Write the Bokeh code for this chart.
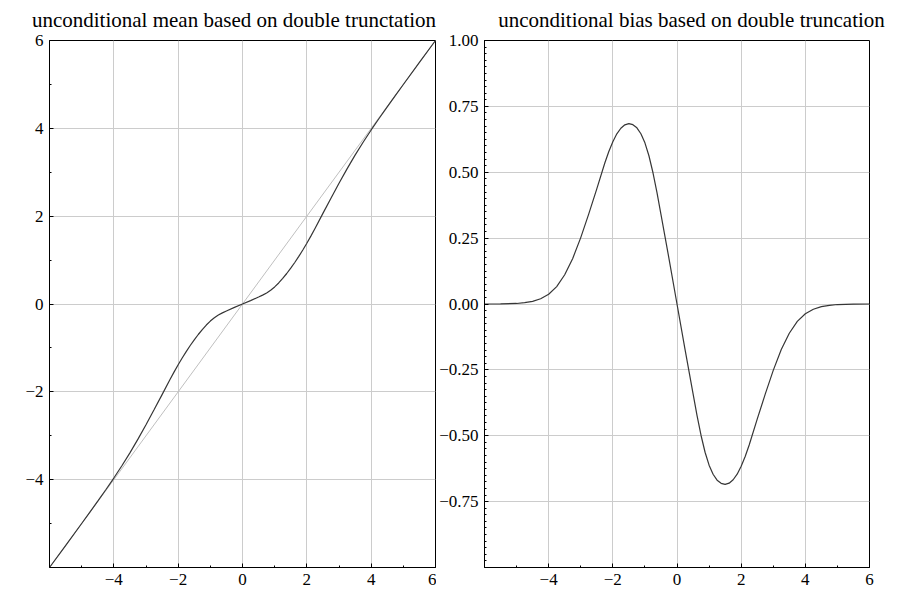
from bokeh.plotting import figure
from bokeh.models import Range1d, FixedTicker, CustomJSTickFormatter, Label
from bokeh.layouts import column, row
from bokeh.embed import file_html
from bokeh.resources import INLINE

# ---- data ----
x_vals = [-6.0, -5.5, -5.0, -4.75, -4.5, -4.25, -4.0, -3.75, -3.5, -3.25, -3.0, -2.75, -2.5,
          -2.25, -2.125, -2.0, -1.875, -1.75, -1.625, -1.5, -1.375, -1.25, -1.125, -1.0,
          -0.875, -0.75, -0.625, -0.5, -0.25, 0.0,
          0.25, 0.5, 0.625, 0.75, 0.875, 1.0, 1.125, 1.25, 1.375, 1.5, 1.625, 1.75, 1.875,
          2.0, 2.125, 2.25, 2.5, 2.75, 3.0, 3.25, 3.5, 3.75, 4.0, 4.25, 4.5, 4.75, 5.0,
          5.5, 6.0]

bias_vals = [0.0, 0.0004, 0.002, 0.005, 0.01, 0.02, 0.037, 0.066, 0.111, 0.173, 0.252, 0.342,
             0.437, 0.535, 0.579, 0.616, 0.646, 0.667, 0.68, 0.6845, 0.6805, 0.6686, 0.6461,
             0.6116, 0.5626, 0.499, 0.4235, 0.34, 0.1725, 0.0,
             -0.1725, -0.34, -0.4235, -0.499, -0.5626, -0.6116, -0.6461, -0.6686, -0.6805,
             -0.6845, -0.68, -0.667, -0.646, -0.616, -0.579, -0.535, -0.437, -0.342, -0.252,
             -0.173, -0.111, -0.066, -0.037, -0.02, -0.01, -0.005, -0.002, -0.0004, 0.0]

mean_vals = [-6.0, -5.4996, -4.998, -4.745, -4.49, -4.23, -3.963, -3.684, -3.389, -3.077,
             -2.748, -2.408, -2.063, -1.715, -1.546, -1.384, -1.229, -1.083, -0.945, -0.8155,
             -0.6945, -0.5814, -0.4789, -0.3884, -0.3124, -0.251, -0.2015, -0.16, -0.0775, 0.0,
             0.0775, 0.16, 0.2015, 0.251, 0.3124, 0.3884, 0.4789, 0.5814, 0.6945, 0.8155,
             0.945, 1.083, 1.229, 1.384, 1.546, 1.715, 2.063, 2.408, 2.748, 3.077, 3.389,
             3.684, 3.963, 4.23, 4.49, 4.745, 4.998, 5.4996, 6.0]

diag_x = [-6.0, 6.0]
diag_y = [-6.0, 6.0]

left_title = "unconditional mean based on double trunctation"
right_title = "unconditional bias based on double truncation"

x_major = [-4, -2, 0, 2, 4, 6]
x_minor = [-5, -3, -1, 1, 3, 5]
left_y_major = [-4, -2, 0, 2, 4, 6]
left_y_minor = [-5, -3, -1, 1, 3, 5]
right_y_major = [-0.75, -0.5, -0.25, 0.0, 0.25, 0.5, 0.75, 1.0]
right_y_minor = [round(-1 + 0.025 * i, 3) for i in range(81)]

FONT = "Liberation Serif"
CURVE = "#363636"
GRID = "#cccccc"

STRIP_H = 31
TOP_B = 40 - STRIP_H

int_fmt = CustomJSTickFormatter(code="return (tick < 0 ? '\\u2212' : '') + Math.abs(tick).toFixed(0);")
dec_fmt = CustomJSTickFormatter(code="return (tick < 0 ? '\\u2212' : '') + Math.abs(tick).toFixed(2);")


def style(p, yfmt):
    p.outline_line_color = "black"
    p.outline_line_width = 1
    p.outline_line_alpha = 1
    for ax in (p.xaxis[0], p.yaxis[0]):
        ax.axis_line_color = "black"
        ax.major_tick_in = 4
        ax.major_tick_out = 0
        ax.minor_tick_in = 2
        ax.minor_tick_out = 0
        ax.major_tick_line_color = "black"
        ax.minor_tick_line_color = "black"
        ax.major_label_text_font = FONT
        ax.major_label_text_font_size = "17px"
        ax.major_label_text_color = "black"
    p.xaxis[0].formatter = int_fmt
    p.yaxis[0].formatter = yfmt
    p.xaxis[0].major_label_standoff = 6
    p.yaxis[0].major_label_standoff = 6
    p.xgrid.grid_line_color = GRID
    p.ygrid.grid_line_color = GRID
    p.background_fill_color = "white"
    p.border_fill_color = "white"


# ---- title strip ----
tf = figure(width=909, height=STRIP_H, x_range=Range1d(0, 909), y_range=Range1d(0, STRIP_H),
            output_backend="svg", toolbar_location=None, min_border=0, title=None,
            x_axis_location=None, y_axis_location=None)
tf.grid.visible = False
tf.outline_line_color = None
tf.add_layout(Label(x=233.5, y=STRIP_H - 19.4, text=left_title, text_font=FONT,
                    text_font_size="21px", text_align="center", text_baseline="middle",
                    text_color="black"))
tf.add_layout(Label(x=691, y=STRIP_H - 19.4, text=right_title, text_font=FONT,
                    text_font_size="21px", text_align="center", text_baseline="middle",
                    text_color="black"))

# ---- left panel ----
p1 = figure(width=436, height=590 - STRIP_H, x_range=Range1d(-6, 6), y_range=Range1d(-6, 6),
            output_backend="svg", toolbar_location=None, title=None,
            min_border_left=49, min_border_right=1, min_border_top=TOP_B, min_border_bottom=23)
p1.xaxis[0].ticker = FixedTicker(ticks=x_major, minor_ticks=x_minor)
p1.yaxis[0].ticker = FixedTicker(ticks=left_y_major, minor_ticks=left_y_minor)
style(p1, int_fmt)
p1.line(diag_x, diag_y, line_color="#bfbfbf", line_width=1)
p1.line(x_vals, mean_vals, line_color=CURVE, line_width=1.2)

# ---- right panel ----
p2 = figure(width=473, height=590 - STRIP_H, x_range=Range1d(-6, 6), y_range=Range1d(-1, 1),
            output_backend="svg", toolbar_location=None, title=None,
            min_border_left=47, min_border_right=40, min_border_top=TOP_B, min_border_bottom=23)
p2.xaxis[0].ticker = FixedTicker(ticks=x_major, minor_ticks=x_minor)
p2.yaxis[0].ticker = FixedTicker(ticks=right_y_major, minor_ticks=right_y_minor)
style(p2, dec_fmt)
p2.line(x_vals, bias_vals, line_color=CURVE, line_width=1.2)

layout = column(tf, row(p1, p2, spacing=0), spacing=0)

open("out.html", "w").write(file_html(layout, INLINE))
